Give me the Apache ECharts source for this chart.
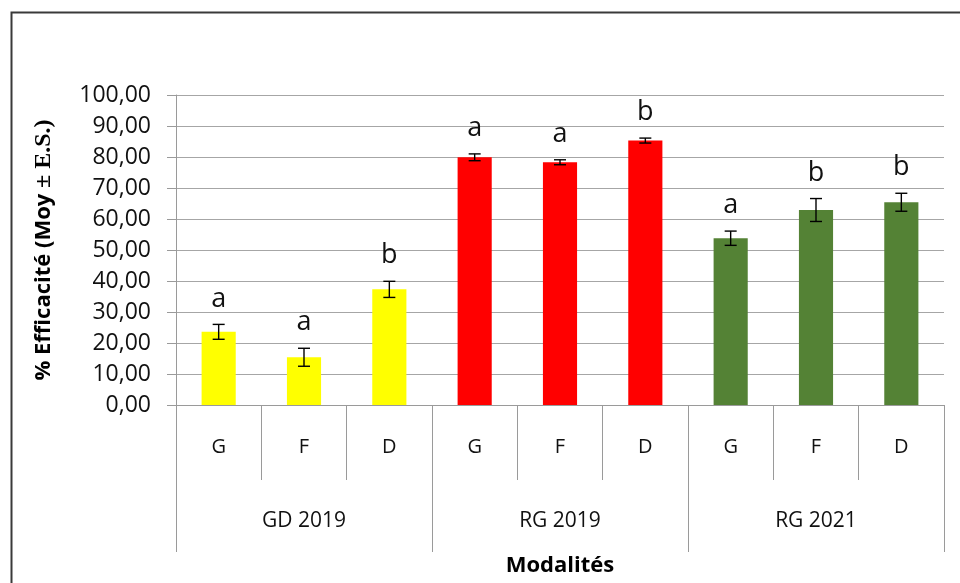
<!DOCTYPE html>
<html>
<head>
<meta charset="utf-8">
<script src="https://cdn.jsdelivr.net/npm/echarts@6/dist/echarts.min.js"></script>
<style>
  html, body { margin: 0; padding: 0; background: #fff; }
  #chart { width: 960px; height: 583px; }
</style>
</head>
<body>
<div id="chart"></div>
<script>
// données
var categories = ['G', 'F', 'D', 'G', 'F', 'D', 'G', 'F', 'D'];
var groups = ['GD 2019', 'RG 2019', 'RG 2021'];
var means = [23.6, 15.4, 37.3, 79.9, 78.3, 85.3, 53.8, 62.9, 65.4];
var errors = [2.4, 2.9, 2.6, 1.1, 0.8, 0.8, 2.3, 3.7, 2.9];
var letters = ['a', 'a', 'b', 'a', 'a', 'b', 'a', 'b', 'b'];
var groupColors = ['#FFFF00', '#FF0000', '#548235'];

var font = 'Open Sans';
var chart = echarts.init(document.getElementById('chart'));

var barData = means.map(function (v, i) {
    return { value: v, itemStyle: { color: groupColors[Math.floor(i / 3)] } };
});
var errData = means.map(function (v, i) {
    return [i, v, errors[i]];
});

chart.setOption({
    animation: false,
    textStyle: { fontFamily: font },
    graphic: [{
        type: 'rect',
        left: 9, top: 10,
        shape: { width: 2000, height: 2000 },
        style: { fill: 'none', stroke: '#3a3a3a', lineWidth: 2 },
        silent: true
    }],
    grid: { left: 176, top: 95, width: 768, height: 310 },
    xAxis: [{
        type: 'category',
        data: categories,
        position: 'bottom',
        axisLine: { show: true, lineStyle: { color: '#9a9a9a', width: 1 } },
        axisTick: { show: true, length: 75, interval: 0, lineStyle: { color: '#9a9a9a' } },
        axisLabel: { interval: 0, margin: 32, fontSize: 20, color: '#111', fontFamily: font }
    }, {
        type: 'category',
        data: groups,
        position: 'bottom',
        offset: 0,
        axisLine: { show: false },
        axisTick: { show: true, length: 147, interval: 0, lineStyle: { color: '#9a9a9a' } },
        axisLabel: { interval: 0, margin: 106, fontSize: 21, color: '#111', fontFamily: font },
        name: 'Modalités',
        nameLocation: 'middle',
        nameGap: 150,
        nameTextStyle: { fontSize: 22, fontWeight: 'bold', color: '#000', fontFamily: font }
    }],
    yAxis: {
        type: 'value',
        min: 0, max: 100, interval: 10,
        axisLine: { show: true, lineStyle: { color: '#9a9a9a' } },
        axisTick: { show: true, length: 9, lineStyle: { color: '#9a9a9a' } },
        splitLine: { lineStyle: { color: '#a6a6a6', width: 1 } },
        axisLabel: {
            margin: 25, fontSize: 23, color: '#111', fontFamily: font,
            formatter: function (v) { return v.toFixed(2).replace('.', ','); }
        },
        name: '% Efficacité (Moy {s|± E.S.)}',
        nameLocation: 'middle',
        nameGap: 120,
        nameTextStyle: {
            fontSize: 22, fontWeight: 'bold', color: '#000', fontFamily: font,
            rich: { s: { fontSize: 24, fontWeight: 'bold', color: '#000', fontFamily: 'Liberation Serif' } }
        }
    },
    series: [{
        type: 'bar',
        xAxisIndex: 0,
        barWidth: '40%',
        z: 2,
        data: barData
    }, {
        type: 'custom',
        xAxisIndex: 0,
        z: 5,
        data: errData,
        renderItem: function (params, api) {
            var i = api.value(0);
            var m = api.value(1);
            var e = api.value(2);
            var top = api.coord([i, m + e]);
            var bot = api.coord([i, m - e]);
            var cap = 6;
            var st = { stroke: '#000', lineWidth: 1.4 };
            return {
                type: 'group',
                children: [
                    { type: 'line', shape: { x1: top[0], y1: top[1], x2: bot[0], y2: bot[1] }, style: st },
                    { type: 'line', shape: { x1: top[0] - cap, y1: top[1], x2: top[0] + cap, y2: top[1] }, style: st },
                    { type: 'line', shape: { x1: bot[0] - cap, y1: bot[1], x2: bot[0] + cap, y2: bot[1] }, style: st },
                    {
                        type: 'text',
                        style: {
                            text: letters[params.dataIndex],
                            x: top[0], y: top[1] - 12,
                            align: 'center', verticalAlign: 'bottom',
                            fontSize: 27, fontFamily: font, fill: '#111'
                        }
                    }
                ]
            };
        }
    }]
});
</script>
</body>
</html>
